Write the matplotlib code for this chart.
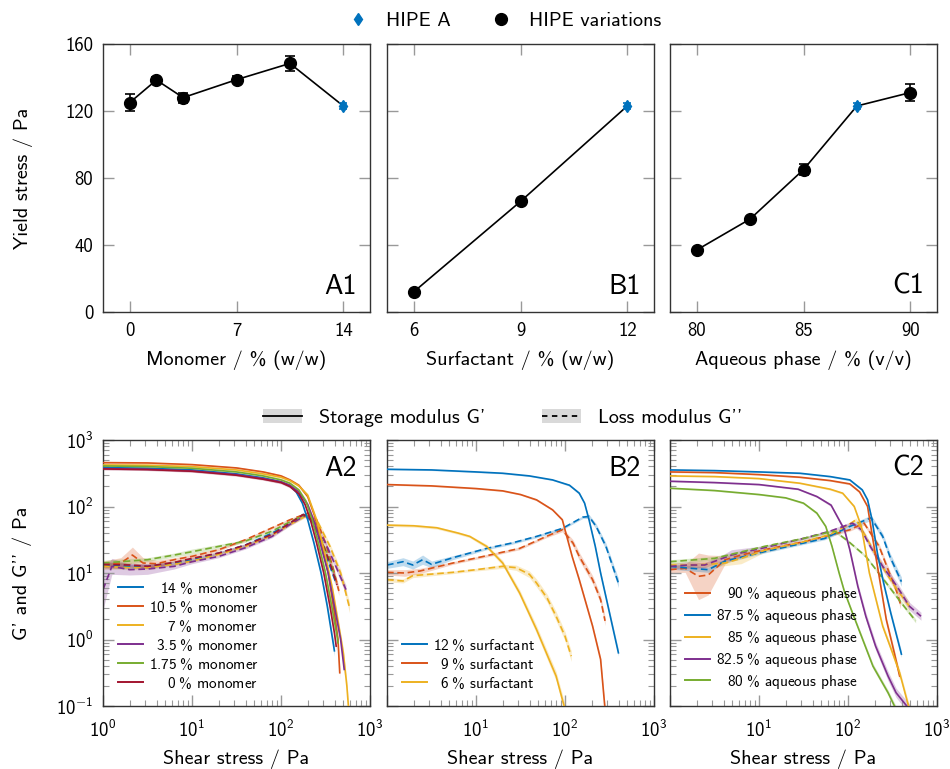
import matplotlib
matplotlib.use("Agg")
import matplotlib.pyplot as plt
import numpy as np
from matplotlib.lines import Line2D
from matplotlib.patches import Patch

plt.rcParams['font.family'] = ['cmss10', 'DejaVu Sans']
plt.rcParams['mathtext.fontset'] = 'custom'
plt.rcParams['mathtext.rm'] = 'cmss10'
plt.rcParams['mathtext.it'] = 'cmss10'
plt.rcParams['mathtext.bf'] = 'cmss10'
plt.rcParams['mathtext.sf'] = 'cmss10'

BLUE = '#0072BD'
ORANGE = '#D95319'
YELLOW = '#EDB120'
PURPLE = '#7E2F8E'
GREEN = '#77AC30'
DARKRED = '#A2142F'

# ---------------- yield stress (top row) ----------------
monomer = [0, 1.75, 3.5, 7, 10.5, 14]
monomer_yield = [125, 138.5, 128, 138.7, 148.4, 123]
monomer_err = [5, 1.5, 3, 2, 4.5, 2]
monomer_hipe = 5

surfactant = [6, 9, 12]
surfactant_yield = [12, 66, 123]
surfactant_err = [1, 1.5, 2]
surfactant_hipe = 2

aqueous = [80, 82.5, 85, 87.5, 90]
aqueous_yield = [37, 55.5, 85, 123, 131]
aqueous_err = [1, 1.5, 3.5, 2, 5]
aqueous_hipe = 3

# ---------------- amplitude sweeps (bottom row) ----------------
# each point: (log10 shear stress / Pa, log10 modulus / Pa, log10 half width of band)
a2_labels = ['14', '10.5', '7', '3.5', '1.75', '0']
a2_colors = [BLUE, ORANGE, YELLOW, PURPLE, GREEN, DARKRED]
a2_storage = [
    [(0, 2.585, .015), (0.5, 2.575, .015), (1.0, 2.55, .015), (1.5, 2.49, .015), (1.8, 2.43, .015),
     (2.0, 2.37, .02), (2.1, 2.31, .02), (2.17, 2.22, .02), (2.24, 2.05, .03), (2.3, 1.8, .03),
     (2.37, 1.45, .04), (2.45, 1.0, .05), (2.52, 0.5, .06), (2.58, 0.0, .07), (2.6, -0.17, .08)],
    [(0, 2.66, .015), (0.5, 2.655, .015), (1.0, 2.63, .015), (1.5, 2.58, .015), (1.8, 2.52, .015),
     (2.0, 2.46, .02), (2.1, 2.4, .02), (2.2, 2.32, .02), (2.3, 2.15, .03), (2.38, 1.85, .03),
     (2.45, 1.5, .04), (2.53, 1.0, .05), (2.6, 0.4, .06), (2.64, 0.0, .08), (2.66, -0.5, .1)],
    [(0, 2.625, .015), (0.5, 2.62, .015), (1.0, 2.6, .015), (1.5, 2.55, .015), (1.8, 2.49, .015),
     (2.0, 2.44, .02), (2.1, 2.39, .02), (2.2, 2.31, .02), (2.3, 2.17, .03), (2.4, 1.8, .03),
     (2.5, 1.25, .04), (2.58, 0.75, .05), (2.65, 0.2, .06), (2.7, -0.2, .07), (2.74, -0.7, .08),
     (2.76, -1.05, .08)],
    [(0, 2.57, .015), (0.5, 2.56, .015), (1.0, 2.535, .015), (1.5, 2.48, .015), (1.8, 2.42, .015),
     (2.0, 2.37, .02), (2.1, 2.32, .02), (2.2, 2.22, .02), (2.3, 2.03, .03), (2.38, 1.75, .03),
     (2.45, 1.4, .04), (2.53, 1.0, .05), (2.6, 0.5, .06), (2.67, 0.0, .07), (2.71, -0.45, .08)],
    [(0, 2.61, .015), (0.5, 2.6, .015), (1.0, 2.575, .015), (1.5, 2.52, .015), (1.8, 2.46, .015),
     (2.0, 2.4, .02), (2.1, 2.35, .02), (2.2, 2.25, .02), (2.28, 2.08, .03), (2.35, 1.8, .03),
     (2.42, 1.45, .04), (2.5, 1.0, .05), (2.57, 0.5, .06), (2.63, 0.05, .07), (2.64, -0.05, .07)],
    [(0, 2.565, .015), (0.5, 2.555, .015), (1.0, 2.53, .015), (1.5, 2.47, .015), (1.8, 2.41, .015),
     (2.0, 2.36, .02), (2.1, 2.3, .02), (2.2, 2.19, .02), (2.27, 2.03, .03), (2.33, 1.8, .03),
     (2.4, 1.45, .04), (2.48, 1.0, .05), (2.55, 0.5, .06), (2.6, 0.1, .07), (2.62, -0.1, .07)],
]
a2_loss = [
    [(0, 1.12, .04), (0.3, 1.1, .04), (0.5, 1.1, .03), (0.8, 1.15, .03), (1.0, 1.2, .02),
     (1.3, 1.3, .02), (1.6, 1.42, .02), (1.9, 1.6, .02), (2.1, 1.75, .02), (2.25, 1.88, .02),
     (2.35, 1.78, .03), (2.45, 1.45, .04), (2.55, 1.1, .05), (2.61, 0.88, .06)],
    [(0, 1.12, .06), (0.2, 1.15, .08), (0.33, 1.27, .12), (0.45, 1.15, .08), (0.6, 1.14, .05),
     (0.8, 1.2, .03), (1.0, 1.25, .03), (1.3, 1.35, .02), (1.6, 1.5, .02), (1.9, 1.68, .02),
     (2.1, 1.8, .02), (2.3, 1.9, .02), (2.4, 1.8, .03), (2.5, 1.45, .04), (2.58, 1.1, .05),
     (2.65, 0.73, .07)],
    [(0, 1.1, .04), (0.3, 1.08, .03), (0.5, 1.08, .03), (0.8, 1.13, .02), (1.0, 1.18, .02),
     (1.3, 1.28, .02), (1.6, 1.4, .02), (1.9, 1.57, .02), (2.1, 1.73, .02), (2.3, 1.87, .02),
     (2.42, 1.75, .03), (2.55, 1.4, .04), (2.67, 1.0, .06), (2.77, 0.48, .08)],
    [(0, 0.75, .3), (0.1, 1.1, .12), (0.3, 1.05, .08), (0.5, 1.06, .08), (0.8, 1.1, .04),
     (1.0, 1.17, .03), (1.3, 1.25, .02), (1.6, 1.38, .02), (1.9, 1.55, .02), (2.1, 1.73, .02),
     (2.28, 1.87, .02), (2.38, 1.75, .03), (2.5, 1.45, .04), (2.6, 1.15, .05), (2.73, 0.75, .07)],
    [(0, 1.15, .04), (0.3, 1.18, .04), (0.5, 1.2, .03), (0.8, 1.27, .03), (1.0, 1.32, .04),
     (1.3, 1.4, .03), (1.6, 1.48, .02), (1.9, 1.63, .02), (2.1, 1.77, .02), (2.28, 1.88, .02),
     (2.38, 1.75, .03), (2.48, 1.42, .04), (2.56, 1.15, .05), (2.61, 0.92, .06)],
    [(0, 1.13, .04), (0.3, 1.12, .03), (0.5, 1.1, .03), (0.8, 1.16, .02), (1.0, 1.22, .02),
     (1.3, 1.3, .02), (1.6, 1.42, .02), (1.9, 1.58, .02), (2.1, 1.75, .02), (2.25, 1.88, .02),
     (2.35, 1.8, .03), (2.45, 1.5, .04), (2.55, 1.15, .05), (2.63, 0.82, .06)],
]

b2_labels = ['12', '9', '6']
b2_colors = [BLUE, ORANGE, YELLOW]
b2_storage = [
    [(0, 2.56, .01), (0.5, 2.55, .01), (1.0, 2.52, .01), (1.3, 2.5, .01), (1.6, 2.46, .01),
     (1.86, 2.4, .01), (2.05, 2.32, .015), (2.16, 2.2, .02), (2.22, 2.05, .02), (2.27, 1.8, .02),
     (2.34, 1.4, .03), (2.4, 1.0, .03), (2.5, 0.4, .04), (2.6, -0.2, .05)],
    [(0, 2.33, .01), (0.5, 2.31, .01), (1.0, 2.27, .01), (1.3, 2.235, .01), (1.5, 2.18, .01),
     (1.68, 2.1, .015), (1.86, 1.95, .015), (1.97, 1.8, .02), (2.01, 1.6, .02), (2.08, 1.25, .02),
     (2.16, 0.9, .03), (2.31, 0.2, .03), (2.4, -0.3, .04), (2.45, -1.05, .05)],
    [(0, 1.72, .02), (0.3, 1.71, .02), (0.56, 1.68, .02), (0.8, 1.6, .02), (0.93, 1.55, .02),
     (1.12, 1.4, .03), (1.3, 1.15, .04), (1.49, 0.7, .05), (1.68, 0.15, .06), (1.9, -0.55, .07),
     (2.0, -1.05, .08)],
]
b2_loss = [
    [(0, 1.12, .05), (0.18, 1.17, .06), (0.29, 1.12, .06), (0.4, 1.2, .07), (0.5, 1.13, .05),
     (0.74, 1.23, .03), (1.12, 1.37, .02), (1.4, 1.45, .02), (1.68, 1.55, .02), (1.97, 1.67, .02),
     (2.2, 1.84, .02), (2.27, 1.85, .03), (2.35, 1.7, .04), (2.46, 1.4, .05), (2.6, 0.85, .07)],
    [(0, 1.01, .04), (0.2, 1.0, .05), (0.37, 1.03, .04), (0.74, 1.15, .02), (1.12, 1.26, .02),
     (1.49, 1.37, .02), (1.79, 1.55, .02), (1.97, 1.65, .03), (2.09, 1.45, .05), (2.16, 1.25, .06),
     (2.31, 0.9, .06), (2.4, 0.6, .06), (2.45, 0.28, .07)],
    [(0, 0.9, .03), (0.18, 0.88, .03), (0.29, 0.96, .03), (0.74, 1.01, .02), (1.0, 1.05, .02),
     (1.3, 1.1, .03), (1.45, 1.08, .04), (1.6, 0.98, .05), (1.68, 0.85, .06), (1.8, 0.62, .06),
     (1.9, 0.35, .07), (2.0, 0.05, .07), (2.07, -0.25, .08)],
]

c2_labels = ['90', '87.5', '85', '82.5', '80']
c2_colors = [ORANGE, BLUE, YELLOW, PURPLE, GREEN]
c2_storage = [
    [(0, 2.52, .01), (0.5, 2.51, .01), (1.0, 2.48, .01), (1.46, 2.44, .01), (1.8, 2.39, .01),
     (2.02, 2.34, .015), (2.13, 2.22, .02), (2.22, 2.0, .02), (2.28, 1.5, .03), (2.35, 0.95, .03),
     (2.43, 0.3, .04), (2.52, -0.2, .05), (2.58, -0.55, .06)],
    [(0, 2.55, .01), (0.5, 2.54, .01), (1.0, 2.52, .01), (1.46, 2.5, .01), (1.8, 2.45, .01),
     (2.02, 2.4, .015), (2.16, 2.25, .02), (2.22, 2.1, .02), (2.27, 1.8, .03), (2.33, 1.3, .03),
     (2.4, 0.85, .03), (2.48, 0.4, .04), (2.6, -0.22, .05)],
    [(0, 2.46, .01), (0.5, 2.45, .01), (1.0, 2.42, .01), (1.46, 2.35, .01), (1.8, 2.26, .015),
     (1.94, 2.2, .015), (2.07, 2.0, .02), (2.15, 1.7, .02), (2.24, 1.0, .03), (2.39, 0.2, .04),
     (2.5, -0.2, .05), (2.58, -0.5, .05), (2.69, -1.05, .06)],
    [(0, 2.38, .01), (0.5, 2.36, .01), (1.0, 2.33, .01), (1.44, 2.26, .01), (1.65, 2.15, .015),
     (1.81, 2.02, .02), (1.96, 1.65, .03), (2.02, 1.35, .04), (2.11, 0.8, .05), (2.2, 0.35, .06),
     (2.31, -0.1, .06), (2.45, -0.55, .07), (2.54, -0.8, .07), (2.69, -1.05, .08)],
    [(0, 2.275, .01), (0.5, 2.24, .01), (1.0, 2.18, .01), (1.3, 2.13, .01), (1.5, 2.05, .015),
     (1.65, 1.9, .02), (1.75, 1.7, .02), (1.82, 1.4, .02), (1.9, 1.0, .02), (1.96, 0.72, .03),
     (2.05, 0.4, .03), (2.28, -0.4, .04), (2.45, -0.8, .04), (2.54, -1.05, .05)],
]
c2_loss = [
    [(0, 1.05, .05), (0.17, 1.07, .06), (0.32, 0.95, .35), (0.43, 0.97, .3), (0.62, 1.2, .06),
     (0.8, 1.27, .03), (1.06, 1.35, .02), (1.5, 1.47, .02), (1.83, 1.58, .02), (2.02, 1.65, .02),
     (2.18, 1.75, .03), (2.35, 1.4, .04), (2.45, 1.05, .05), (2.54, 0.75, .06), (2.59, 0.53, .07)],
    [(0, 1.1, .04), (0.24, 1.07, .04), (0.43, 1.05, .04), (0.62, 1.18, .03), (1.06, 1.32, .02),
     (1.5, 1.45, .02), (1.74, 1.52, .02), (2.02, 1.7, .03), (2.26, 1.83, .04), (2.39, 1.55, .05),
     (2.47, 1.25, .06), (2.6, 0.87, .07)],
    [(0, 1.12, .04), (0.3, 1.12, .04), (0.62, 1.15, .04), (0.8, 1.22, .08), (1.06, 1.34, .03),
     (1.5, 1.47, .02), (1.8, 1.58, .02), (2.0, 1.72, .02), (2.09, 1.8, .03), (2.2, 1.55, .04),
     (2.3, 1.3, .04), (2.43, 1.0, .05), (2.55, 0.75, .06), (2.69, 0.5, .07)],
    [(0, 1.1, .04), (0.2, 1.12, .05), (0.39, 1.12, .04), (0.55, 1.2, .04), (0.69, 1.27, .08),
     (1.06, 1.38, .03), (1.5, 1.52, .02), (1.8, 1.63, .02), (2.05, 1.75, .03), (2.15, 1.65, .04),
     (2.25, 1.4, .05), (2.39, 1.1, .06), (2.55, 0.8, .06), (2.69, 0.5, .06), (2.82, 0.35, .06)],
    [(0, 1.17, .03), (0.5, 1.22, .03), (1.06, 1.4, .02), (1.5, 1.52, .02), (1.74, 1.6, .02),
     (1.85, 1.63, .02), (2.0, 1.48, .02), (2.2, 1.25, .02), (2.43, 0.85, .03), (2.6, 0.55, .03),
     (2.76, 0.28, .03)],
]

TICK_GRAY = '0.6'
LABEL_SIZE = 14.5
TICK_SIZE = 13.5
LEGEND_SIZE = 11


def style_axes(ax, xpad=7):
    for sp in ax.spines.values():
        sp.set_color('0.2')
        sp.set_linewidth(1.0)
    ax.tick_params(which='both', direction='in', top=True, right=True,
                   color=TICK_GRAY, labelsize=TICK_SIZE, pad=7)
    ax.tick_params(axis='x', which='both', pad=xpad)
    ax.tick_params(which='major', length=8, width=1)
    ax.tick_params(which='minor', length=4, width=0.8)


def yield_panel(ax, x, y, err, hipe, xlabel, tag):
    ax.plot(x, y, color='k', lw=1.2, zorder=2)
    var = [i for i in range(len(x)) if i != hipe]
    ax.errorbar([x[i] for i in var], [y[i] for i in var], yerr=[err[i] for i in var],
                fmt='o', color='k', ms=8.5, capsize=3.5, elinewidth=1.2, capthick=1.2, zorder=3)
    ax.errorbar([x[hipe]], [y[hipe]], yerr=[err[hipe]], fmt='d', color=BLUE,
                ms=6.5, capsize=3, elinewidth=1.2, capthick=1.2, zorder=4)
    ticks = [x[0], (x[0] + x[-1]) / 2, x[-1]]
    span = x[-1] - x[0]
    ax.set_xlim(x[0] - 0.125 * span, x[-1] + 0.125 * span)
    ax.set_xticks(ticks)
    ax.set_xticklabels(['%g' % t for t in ticks])
    ax.set_ylim(0, 160)
    ax.set_yticks([0, 40, 80, 120, 160])
    ax.set_xlabel(xlabel, fontsize=LABEL_SIZE, labelpad=8)
    ax.text(0.95, 0.05, tag, transform=ax.transAxes, ha='right', va='bottom', fontsize=20)
    style_axes(ax)


def sweep_panel(ax, storage, loss, colors, labels, suffix, tag, pad):
    for curves, dashed in ((loss, True), (storage, False)):
        for pts, c in zip(curves, colors):
            arr = np.array(pts)
            x = 10 ** arr[:, 0]
            ax.fill_between(x, 10 ** (arr[:, 1] - arr[:, 2]), 10 ** (arr[:, 1] + arr[:, 2]),
                            color=c, alpha=0.25, lw=0, zorder=1)
            if dashed:
                ax.plot(x, 10 ** arr[:, 1], color=c, lw=1.2, dashes=(4, 2.2), zorder=2)
            else:
                ax.plot(x, 10 ** arr[:, 1], color=c, lw=1.2, zorder=3)
    handles = [Line2D([], [], color=c, lw=1.4) for c in colors]
    texts = []
    for lab in labels:
        w = pad - (len(lab.replace('.', '')) * 0.6 + lab.count('.') * 0.334)
        texts.append(r'$\hspace{%.3f}$%s$\hspace{0.3}$%% %s' % (max(w, 0), lab, suffix))
    ax.legend(handles, texts, loc='lower left', frameon=False, fontsize=LEGEND_SIZE,
              handlelength=1.6, handletextpad=0.4, labelspacing=0.25,
              borderaxespad=0.6, borderpad=0.4)
    ax.set_xscale('log')
    ax.set_yscale('log')
    ax.set_xlim(1, 1000)
    ax.set_ylim(0.1, 1000)
    ax.set_xticks([1, 10, 100, 1000])
    ax.set_yticks([0.1, 1, 10, 100, 1000])
    ax.text(0.95, 0.94, tag, transform=ax.transAxes, ha='right', va='top', fontsize=20)
    ax.set_xlabel('Shear stress / Pa', fontsize=LABEL_SIZE, labelpad=6)
    style_axes(ax, xpad=10)


fig = plt.figure(figsize=(9.5, 7.69), dpi=100)
lefts = [103 / 950, 387 / 950, 670 / 950]
w = 267 / 950
top_axes = [fig.add_axes([l, 1 - 312 / 769, w, 268 / 769]) for l in lefts]
bot_axes = [fig.add_axes([l, 1 - 706 / 769, w, 266 / 769]) for l in lefts]

yield_panel(top_axes[0], monomer, monomer_yield, monomer_err, monomer_hipe,
            'Monomer / % (w/w)', 'A1')
yield_panel(top_axes[1], surfactant, surfactant_yield, surfactant_err, surfactant_hipe,
            'Surfactant / % (w/w)', 'B1')
yield_panel(top_axes[2], aqueous, aqueous_yield, aqueous_err, aqueous_hipe,
            'Aqueous phase / % (v/v)', 'C1')
top_axes[0].set_ylabel('Yield stress / Pa', fontsize=LABEL_SIZE, labelpad=23)
for ax in top_axes[1:]:
    ax.set_yticklabels([])

sweep_panel(bot_axes[0], a2_storage, a2_loss, a2_colors, a2_labels, 'monomer', 'A2', 2.13)
sweep_panel(bot_axes[1], b2_storage, b2_loss, b2_colors, b2_labels, 'surfactant', 'B2', 1.2)
sweep_panel(bot_axes[2], c2_storage, c2_loss, c2_colors, c2_labels, 'aqueous phase', 'C2', 2.13)
bot_axes[0].set_ylabel("G' and G'' / Pa", fontsize=LABEL_SIZE, labelpad=17)
xt = [r'$10^{0}$', r'$10^{1}$', r'$10^{2}$', r'$10^{3}$']
bot_axes[0].set_xticklabels(xt)
for ax in bot_axes[1:]:
    ax.set_xticklabels([''] + xt[1:])
    ax.set_yticklabels([])
bot_axes[0].set_yticklabels([r'$10^{-1}$', r'$10^{0}$', r'$10^{1}$', r'$10^{2}$', r'$10^{3}$'])

# shared legends
fig.legend([Line2D([], [], marker='d', color=BLUE, ls='none', ms=6.5),
            Line2D([], [], marker='o', color='k', ls='none', ms=8.5)],
           ['HIPE A', 'HIPE variations'], loc='center', bbox_to_anchor=(0.53, 0.973),
           ncol=2, frameon=False, fontsize=LABEL_SIZE, columnspacing=1.9,
           handlelength=1.2, handletextpad=0.8)
band = Patch(facecolor='#d9d9d9', edgecolor='none')
fig.legend([(band, Line2D([], [], color='k', lw=1.3)),
            (band, Line2D([], [], color='k', lw=1.3, dashes=(3, 2.5)))],
           ["Storage modulus G'", "Loss modulus G''"], loc='center',
           bbox_to_anchor=(0.529, 0.456), ncol=2, frameon=False, fontsize=LABEL_SIZE,
           columnspacing=2.8, handlelength=1.95, handletextpad=0.85)

fig.savefig('out.png', dpi=100)
